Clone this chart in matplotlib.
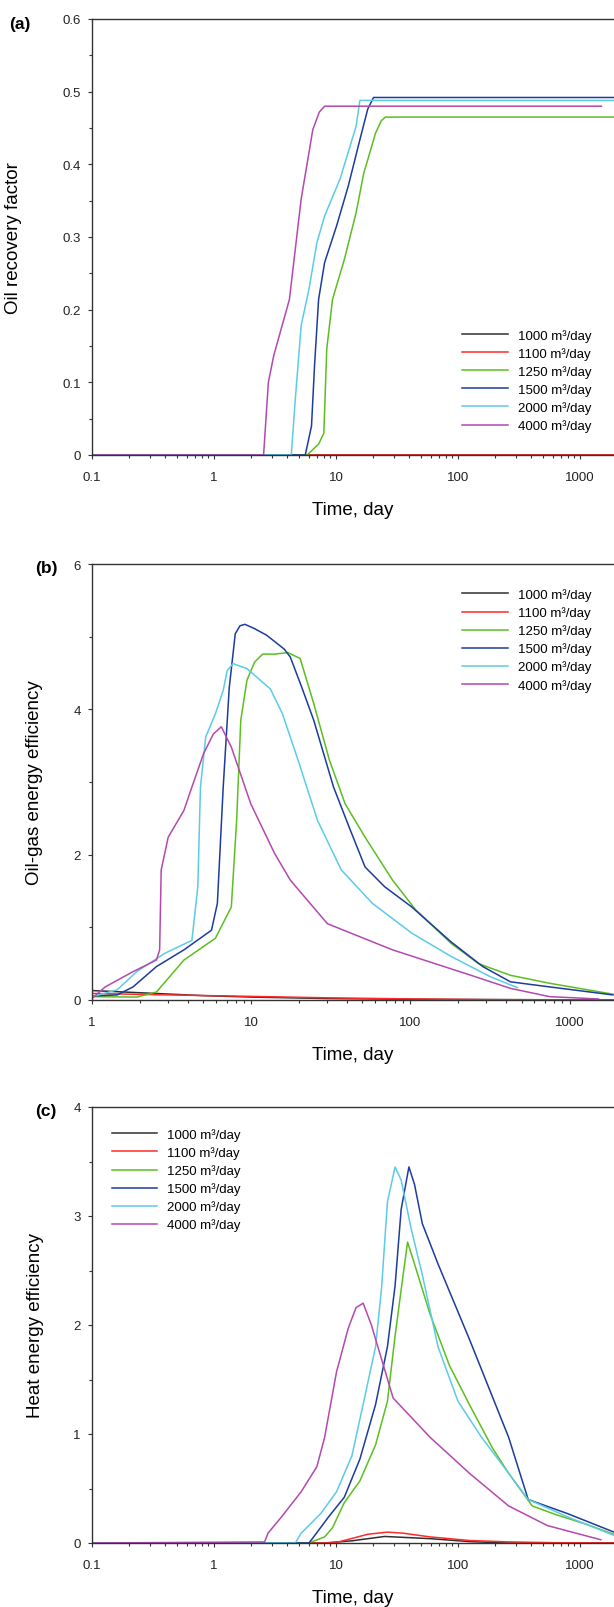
import numpy as np
import matplotlib
matplotlib.use('Agg')
import matplotlib.pyplot as plt

plt.rcParams['font.family'] = ['Liberation Sans', 'DejaVu Sans']

rates = ['1000 m³/day', '1100 m³/day', '1250 m³/day', '1500 m³/day', '2000 m³/day', '4000 m³/day']
colors = ['#303030', '#ff2a2a', '#5cbf20', '#1c3c9e', '#5ccbe6', '#b548b0']

# (a) oil recovery factor
a_t_1000 = [0.1, 2000]
a_v_1000 = [0, 0]
a_t_1100 = [0.1, 2000]
a_v_1100 = [0, 0]
a_t_1250 = [0.1, 5.8, 7.2, 7.95, 8.4, 9.36, 11.7, 14.6, 16.9, 21.1, 23.5, 25.4, 2000]
a_v_1250 = [0, 0, 0.015, 0.03, 0.146, 0.214, 0.269, 0.333, 0.388, 0.443, 0.46, 0.465, 0.465]
a_t_1500 = [0.1, 5.6, 6.3, 6.67, 7.2, 8.07, 10.1, 12.6, 15.7, 18.2, 20.3, 2000]
a_v_1500 = [0, 0, 0.04, 0.123, 0.214, 0.265, 0.315, 0.37, 0.434, 0.476, 0.492, 0.492]
a_t_2000 = [0.1, 4.3, 4.64, 5.18, 6.0, 6.97, 8.07, 10.8, 14.6, 15.7, 2000]
a_v_2000 = [0, 0, 0.077, 0.178, 0.228, 0.292, 0.329, 0.38, 0.452, 0.488, 0.488]
a_t_4000 = [0.1, 2.55, 2.79, 3.09, 4.15, 5.18, 6.46, 7.3, 8.07, 1500]
a_v_4000 = [0, 0, 0.1, 0.137, 0.214, 0.352, 0.448, 0.472, 0.48, 0.48]

# (b) oil-gas energy efficiency
b_t_1000 = [1, 2, 5, 10, 30, 100, 2000]
b_v_1000 = [0.13, 0.1, 0.06, 0.04, 0.02, 0.01, 0.0]
b_t_1100 = [1, 3, 10, 30, 100, 300, 2000]
b_v_1100 = [0.09, 0.07, 0.05, 0.03, 0.015, 0.005, 0.0]
b_t_1250 = [1, 1.91, 2.54, 3.78, 5.96, 7.5, 8.1, 8.6, 9.4, 10.5, 11.8, 14.0, 17.0, 20.3, 24.7,
            31, 38.9, 51.9, 77.2, 108, 180, 268, 425, 750, 1870]
b_v_1250 = [0.046, 0.04, 0.11, 0.55, 0.85, 1.28, 2.47, 3.85, 4.4, 4.65, 4.76, 4.76, 4.78, 4.7, 4.08,
            3.3, 2.7, 2.24, 1.65, 1.24, 0.78, 0.5, 0.34, 0.23, 0.08]
b_t_1500 = [1, 1.44, 1.81, 2.54, 3.78, 5.63, 6.13, 6.67, 7.28, 7.94, 8.5, 9.13, 10.5, 12.5, 16.1,
            17.6, 20.8, 24.7, 32.9, 41.2, 51.9, 68.8, 102, 180, 285, 425, 750, 1870]
b_v_1500 = [0.055, 0.07, 0.18, 0.46, 0.69, 0.96, 1.33, 2.93, 4.3, 5.04, 5.15, 5.17, 5.11, 5.02, 4.83,
            4.72, 4.3, 3.85, 2.93, 2.38, 1.83, 1.56, 1.28, 0.8, 0.46, 0.25, 0.18, 0.07]
b_t_2000 = [1, 1.44, 1.91, 2.85, 4.24, 4.62, 4.8, 5.18, 5.96, 6.67, 7.06, 7.69, 9.4, 13.2,
            15.7, 19.7, 26.1, 36.8, 57.7, 102, 180, 318, 470]
b_v_2000 = [0.046, 0.14, 0.39, 0.64, 0.82, 1.56, 2.93, 3.62, 3.94, 4.26, 4.53, 4.63, 4.56, 4.28,
            3.94, 3.3, 2.47, 1.79, 1.33, 0.92, 0.6, 0.32, 0.17]
b_t_4000 = [1, 1.21, 1.81, 2.54, 2.66, 2.72, 3.01, 3.78, 4.24, 5.02, 5.78, 6.49, 7.5, 9.94,
            14.0, 17.6, 30.1, 77.2, 240, 425, 750, 1520]
b_v_4000 = [0.02, 0.18, 0.39, 0.55, 0.69, 1.79, 2.24, 2.61, 2.93, 3.39, 3.66, 3.76, 3.48, 2.7,
            2.02, 1.65, 1.05, 0.69, 0.34, 0.16, 0.046, 0.014]

# (c) heat energy efficiency
c_t_1000 = [0.1, 8, 13.5, 25, 59, 124, 250, 2000]
c_v_1000 = [0, 0, 0.02, 0.06, 0.04, 0.013, 0.0, 0.0]
c_t_1100 = [0.1, 8, 10.1, 18.2, 26.4, 35.5, 59, 124, 260, 600, 2000]
c_v_1100 = [0, 0, 0.005, 0.08, 0.1, 0.09, 0.056, 0.023, 0.01, 0.003, 0.0]
c_t_1250 = [0.1, 6.0, 8.07, 9.36, 11.7, 15.7, 21.1, 26.4, 30.5, 35.5, 38.6, 44, 59, 85, 124,
            192, 260, 406, 635, 1140, 2000]
c_v_1250 = [0, 0, 0.056, 0.14, 0.37, 0.57, 0.9, 1.3, 1.9, 2.46, 2.76, 2.56, 2.1, 1.63, 1.27,
            0.87, 0.64, 0.34, 0.26, 0.17, 0.07]
c_t_1500 = [0.1, 6.0, 6.4, 8.7, 11.7, 15.7, 21.1, 26.4, 30.5, 34.2, 39.6, 44, 51, 68.6, 124,
            260, 376, 470, 789, 2000]
c_v_1500 = [0, 0, 0.04, 0.24, 0.42, 0.77, 1.27, 1.8, 2.36, 3.06, 3.45, 3.29, 2.93, 2.56, 1.87,
            0.97, 0.4, 0.36, 0.27, 0.09]
c_t_2000 = [0.1, 4.64, 5.18, 7.5, 10.1, 13.5, 16.9, 21.1, 23.6, 26.4, 30.5, 34.2, 41.2, 51,
            68.6, 100, 156, 260, 376, 789, 2000]
c_v_2000 = [0, 0, 0.09, 0.27, 0.47, 0.8, 1.3, 1.8, 2.33, 3.13, 3.45, 3.33, 2.89, 2.46,
            1.8, 1.3, 0.97, 0.64, 0.4, 0.24, 0.06]
c_t_4000 = [0.1, 2.6, 2.77, 3.58, 5.18, 6.97, 8.07, 10.1, 12.6, 14.6, 16.7, 19.5, 29.4, 59, 124,
            260, 540, 1480]
c_v_4000 = [0, 0.01, 0.09, 0.24, 0.47, 0.7, 0.97, 1.57, 1.97, 2.16, 2.2, 2.0, 1.33, 0.97, 0.64,
            0.34, 0.16, 0.03]

panel_a = [(a_t_1000, a_v_1000), (a_t_1100, a_v_1100), (a_t_1250, a_v_1250),
           (a_t_1500, a_v_1500), (a_t_2000, a_v_2000), (a_t_4000, a_v_4000)]
panel_b = [(b_t_1000, b_v_1000), (b_t_1100, b_v_1100), (b_t_1250, b_v_1250),
           (b_t_1500, b_v_1500), (b_t_2000, b_v_2000), (b_t_4000, b_v_4000)]
panel_c = [(c_t_1000, c_v_1000), (c_t_1100, c_v_1100), (c_t_1250, c_v_1250),
           (c_t_1500, c_v_1500), (c_t_2000, c_v_2000), (c_t_4000, c_v_4000)]


def draw_panel(fig, rect, series, xmin, yticks, yminor, ylabel, ylabel_x, tag, tag_xy, leg_xy):
    ax = fig.add_axes(rect)
    for (t, v), lab, c in zip(series, rates, colors):
        ax.plot(t, v, color=c, lw=1.1, label=lab)
    ax.set_xscale('log')
    ax.set_xlim(xmin, 1900)
    ax.set_ylim(yticks[0], yticks[-1])
    xt = [x for x in [0.1, 1, 10, 100, 1000] if x >= xmin]
    ax.set_xticks(xt)
    ax.set_xticklabels(['%g' % x for x in xt])
    ax.set_yticks(yticks)
    ax.set_yticklabels(['%g' % y for y in yticks])
    ax.set_yticks(yminor, minor=True)
    ax.spines['right'].set_visible(False)
    for s in ['left', 'bottom', 'top']:
        ax.spines[s].set_linewidth(1.0)
        ax.spines[s].set_color('#333333')
    ax.tick_params(which='both', direction='out', width=0.8, colors='#333333',
                   labelcolor='#222222', labelsize=9.5)
    ax.tick_params(which='major', length=3.2)
    ax.tick_params(which='minor', length=2.0)
    ax.tick_params(axis='x', pad=8)
    ax.tick_params(axis='y', pad=5)
    ax.set_xlabel('Time, day', fontsize=13.5)
    ax.xaxis.set_label_coords(0.5, -0.105)
    ax.set_ylabel(ylabel, fontsize=13.5)
    ax.yaxis.set_label_coords(ylabel_x, 0.5)
    ax.legend(loc='center left', bbox_to_anchor=leg_xy, frameon=False, fontsize=9.5,
              handlelength=3.45, handletextpad=0.75, labelspacing=0.4,
              borderpad=0, borderaxespad=0)
    fig.text(tag_xy[0], tag_xy[1], tag, fontsize=12.5, fontweight='bold',
             ha='center', va='center')
    return ax


fig = plt.figure(figsize=(6.14, 16.08), dpi=100)
W, H = 614.0, 1608.0
left = 92 / W
width = 1 - left
h = 436 / H

draw_panel(fig, [left, 1 - 456 / H, width, h], panel_a, 0.1,
           [0, 0.1, 0.2, 0.3, 0.4, 0.5, 0.6], np.arange(0.05, 0.6, 0.1),
           'Oil recovery factor', -0.135, '(a)', (20 / W, 1 - 25 / H), (0.709, 0.171))
draw_panel(fig, [left, 1 - 1001 / H, width, h], panel_b, 1,
           [0, 2, 4, 6], [1, 3, 5],
           'Oil-gas energy efficiency', -0.094, '(b)', (46 / W, 1 - 568 / H), (0.709, 0.826))
draw_panel(fig, [left, 1 - 1544 / H, width, h], panel_c, 0.1,
           [0, 1, 2, 3, 4], [0.5, 1.5, 2.5, 3.5],
           'Heat energy efficiency', -0.092, '(c)', (46 / W, 1 - 1112 / H), (0.038, 0.833))

fig.savefig('out.png', dpi=100)
